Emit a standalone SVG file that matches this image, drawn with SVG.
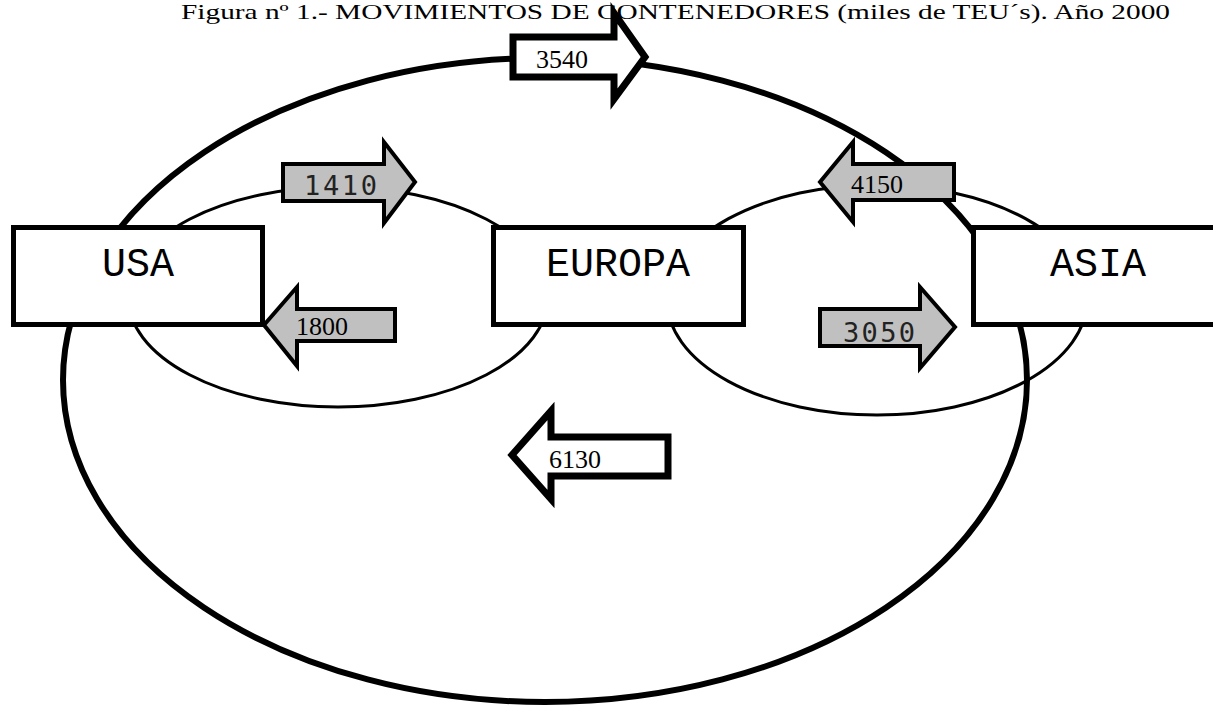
<svg xmlns="http://www.w3.org/2000/svg" width="1213" height="713" viewBox="0 0 1213 713">
<style>
.title{font-family:"Liberation Serif","Times New Roman",serif;font-size:21px;fill:#000}
.box{fill:#fff;stroke:#000;stroke-width:5}
.lbl{font-family:"Liberation Mono","Courier New",monospace;font-size:40px;fill:#000;text-anchor:middle}
.ring{fill:none;stroke:#000}
.thick{fill:#fff;stroke:#000;stroke-width:7;stroke-linejoin:miter;stroke-miterlimit:10}
.gray{fill:#c0c0c0;stroke:#000;stroke-width:4;stroke-linejoin:miter;stroke-miterlimit:10}
.ser{font-family:"Liberation Serif","Times New Roman",serif;font-size:26px;fill:#000}
.mono{font-family:"DejaVu Sans Mono",monospace;font-size:27px;fill:#222}
</style>
<rect width="1213" height="713" fill="#fff"/>
<text class="title" x="181" y="19" textLength="989" lengthAdjust="spacingAndGlyphs">Figura nº 1.- MOVIMIENTOS DE CONTENEDORES (miles de TEU´s). Año 2000</text>
<g id="connectors">
<ellipse class="ring" cx="545" cy="380" rx="482" ry="322" stroke-width="6"/>
<ellipse class="ring" cx="338" cy="297" rx="210" ry="110" stroke-width="3"/>
<ellipse class="ring" cx="877" cy="300" rx="210" ry="115" stroke-width="3"/>
</g>
<g id="usa">
<rect class="box" x="13.5" y="227.5" width="249" height="97"/>
<text class="lbl" x="138" y="276">USA</text>
</g>
<g id="europa">
<rect class="box" x="493.5" y="227.5" width="250" height="97"/>
<text class="lbl" x="618" y="276">EUROPA</text>
</g>
<g id="asia">
<rect class="box" x="973.5" y="227.5" width="250" height="97"/>
<text class="lbl" x="1098" y="276">ASIA</text>
</g>
<g id="arrow-3540">
<polygon class="thick" points="513,37 614,37 614,13 645,57 614,99 614,77 513,77"/>
<text class="ser" x="536" y="68">3540</text>
</g>
<g id="arrow-1410">
<polygon class="gray" points="283,164 384,164 384,142 415,182 384,223 384,201 283,201"/>
<text class="mono" x="304" y="195" textLength="73">1410</text>
</g>
<g id="arrow-4150">
<polygon class="gray" points="954,164 853,164 853,142 820,182 853,222 853,200 954,200"/>
<text class="ser" x="851" y="193">4150</text>
</g>
<g id="arrow-1800">
<polygon class="gray" points="395,309 297,309 297,287 264,325 297,366 297,341 395,341"/>
<text class="ser" x="296" y="335">1800</text>
</g>
<g id="arrow-3050">
<polygon class="gray" points="820,309 920,309 920,287 955,327 920,368 920,346 820,346"/>
<text class="mono" x="843" y="342" textLength="72">3050</text>
</g>
<g id="arrow-6130">
<polygon class="thick" points="668,437 551,437 551,411 512,455 551,499 551,476 668,476"/>
<text class="ser" x="549" y="468">6130</text>
</g>
</svg>
